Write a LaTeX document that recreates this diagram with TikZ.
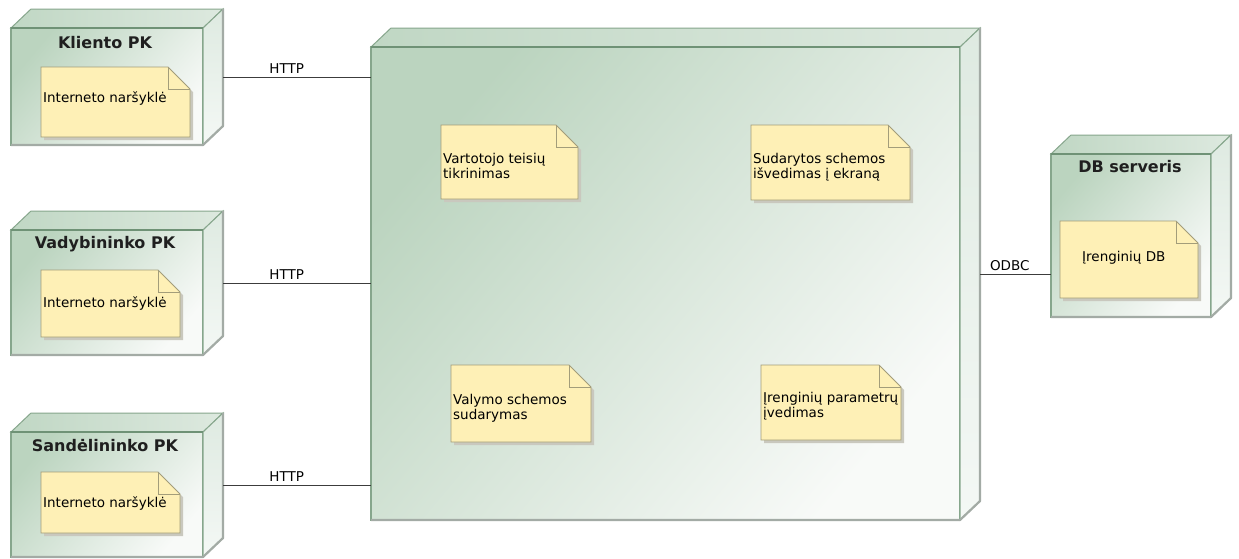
\documentclass[tikz,border=0pt]{standalone}
\usepackage{fontspec}
\setmainfont{DejaVu Sans}
\usetikzlibrary{calc}

\definecolor{devDark}{HTML}{BBD4BF}
\definecolor{devLight}{HTML}{F8FAF8}
\definecolor{devEdge}{HTML}{86A68C}
\definecolor{devTopEdge}{HTML}{6F9276}
\definecolor{devShade}{HTML}{A3ABA5}
\definecolor{topL}{HTML}{C0D7C4}
\definecolor{topR}{HTML}{DDE9DF}
\definecolor{sideT}{HTML}{DEEAE1}
\definecolor{sideB}{HTML}{F4F8F5}
\definecolor{noteFill}{HTML}{FEF0B6}
\definecolor{noteEdge}{HTML}{A39D7A}
\definecolor{noteShade}{HTML}{C9C8BE}
\definecolor{linkGray}{HTML}{3C3C3C}

% depth of the 3D device boxes and size of the note dog-ear
\newcommand\depx{20}
\newcommand\depy{19}
\newcommand\fold{22}

\tikzset{
  devfront/.style={draw=devEdge, line width=1.3pt, top color=devDark, bottom color=devLight,
                   shading angle=50, inner sep=0pt, outer sep=0pt},
  devtop/.style={draw=devEdge, line width=1pt, left color=topL, right color=topR},
  devside/.style={draw=devEdge, line width=1pt, top color=sideT, bottom color=sideB},
  devshade/.style={draw=devShade, line width=2.2pt, line join=round},
  devtopedge/.style={draw=devTopEdge, line width=1.6pt},
  titletext/.style={font=\bfseries\fontsize{16}{19}\selectfont, text=black!88, inner sep=0pt},
  notepoly/.style={fill=noteFill, draw=noteEdge, line width=0.9pt},
  notefold/.style={draw=noteEdge, line width=0.9pt},
  noteshadow/.style={fill=noteShade},
  notetext/.style={font=\fontsize{13.5}{15}\selectfont, align=left, inner sep=1pt, anchor=west},
  link/.style={draw=linkGray, line width=0.9pt},
  linklabel/.style={font=\fontsize{13.5}{15}\selectfont, anchor=south, inner xsep=1pt, inner ysep=3pt}
}

% device box: name, x, y, width, height
\newcommand\DevBox[5]{%
  \node[devfront, minimum width=#4, minimum height=#5, anchor=north west] (#1) at (#2,#3) {};
  \path[devtop] (#1.north west) -- ++(\depx,-\depy) -- ($(#1.north east)+(\depx,-\depy)$)
     -- (#1.north east) -- cycle;
  \path[devside] (#1.north east) -- ($(#1.north east)+(\depx,-\depy)$)
     -- ($(#1.south east)+(\depx,-\depy)$) -- (#1.south east) -- cycle;
  \draw[devshade] (#1.south west) -- (#1.south east) -- ($(#1.south east)+(\depx,-\depy)$)
     -- ($(#1.north east)+(\depx,-\depy)$);
  \draw[devtopedge] (#1.north west) -- (#1.north east);
  \coordinate (#1-port) at ($(#1.east)+(\depx,-\depy/2)$);
}

% note with folded corner: name, x, y, width, height, text x offset, text y shift, text
\newcommand\NoteBox[8]{%
  \fill[noteshadow] ({#2+3},{#3+3}) -- ({#2+#4-\fold+3},{#3+3}) -- ({#2+#4+3},{#3+\fold+3})
     -- ({#2+#4+3},{#3+#5+3}) -- ({#2+3},{#3+#5+3}) -- cycle;
  \filldraw[notepoly] (#2,#3) -- ({#2+#4-\fold},#3) -- ({#2+#4},{#3+\fold})
     -- ({#2+#4},{#3+#5}) -- (#2,{#3+#5}) -- cycle;
  \draw[notefold] ({#2+#4-\fold},#3) -- ({#2+#4-\fold},{#3+\fold}) -- ({#2+#4},{#3+\fold});
  \node[notetext] (#1) at ({#2+#6},{#3+#5/2+#7}) {#8};
}

\begin{document}
\begin{tikzpicture}[x=1pt,y=-1pt]
\useasboundingbox[fill=white] (0,0) rectangle (1239,558);

% client machines
\DevBox{k}{11}{28}{192}{117}
\node[titletext] (kt) at ($(k.north)+(-2,15)$) {Kliento PK};
\NoteBox{kn}{41}{67}{149}{70}{1}{-4}{Interneto naršyklė}

\DevBox{v}{11}{230}{192}{125}
\node[titletext] (vt) at ($(v.north)+(-2,14)$) {Vadybininko PK};
\NoteBox{vn}{41}{270}{139}{67}{1}{0}{Interneto naršyklė}

\DevBox{s}{11}{432}{192}{125}
\node[titletext] (st) at ($(s.north)+(-2,14)$) {Sandėlininko PK};
\NoteBox{sn}{41}{472}{139}{61}{1}{1}{Interneto naršyklė}

% application server
\DevBox{c}{371}{47}{589}{473}
\NoteBox{c1}{441}{125}{137}{74}{1}{4}{Vartotojo teisių\\tikrinimas}
\NoteBox{c2}{751}{125}{159}{75}{1}{5}{Sudarytos schemos\\išvedimas į ekraną}
\NoteBox{c3}{451}{365}{140}{77}{1}{5}{Valymo schemos\\sudarymas}
\NoteBox{c4}{761}{365}{140}{75}{1}{4}{Įrenginių parametrų\\įvedimas}

% database server
\DevBox{d}{1051}{154}{160}{163}
\node[titletext] (dt) at ($(d.north)+(-1,13)$) {DB serveris};
\NoteBox{dn}{1060}{221}{138}{77}{21}{-2}{Įrenginių DB}

% communication paths
\draw[link] (k-port) -- (k-port -| c.west) node[linklabel, pos=0.43] (l1) {HTTP};
\draw[link] (v-port) -- (v-port -| c.west) node[linklabel, pos=0.43] (l2) {HTTP};
\draw[link] (s-port) -- (s-port -| c.west) node[linklabel, pos=0.43] (l3) {HTTP};
\draw[link] (c-port) -- (c-port -| d.west) node[linklabel, pos=0.42] (l4) {ODBC};
\end{tikzpicture}
\end{document}
